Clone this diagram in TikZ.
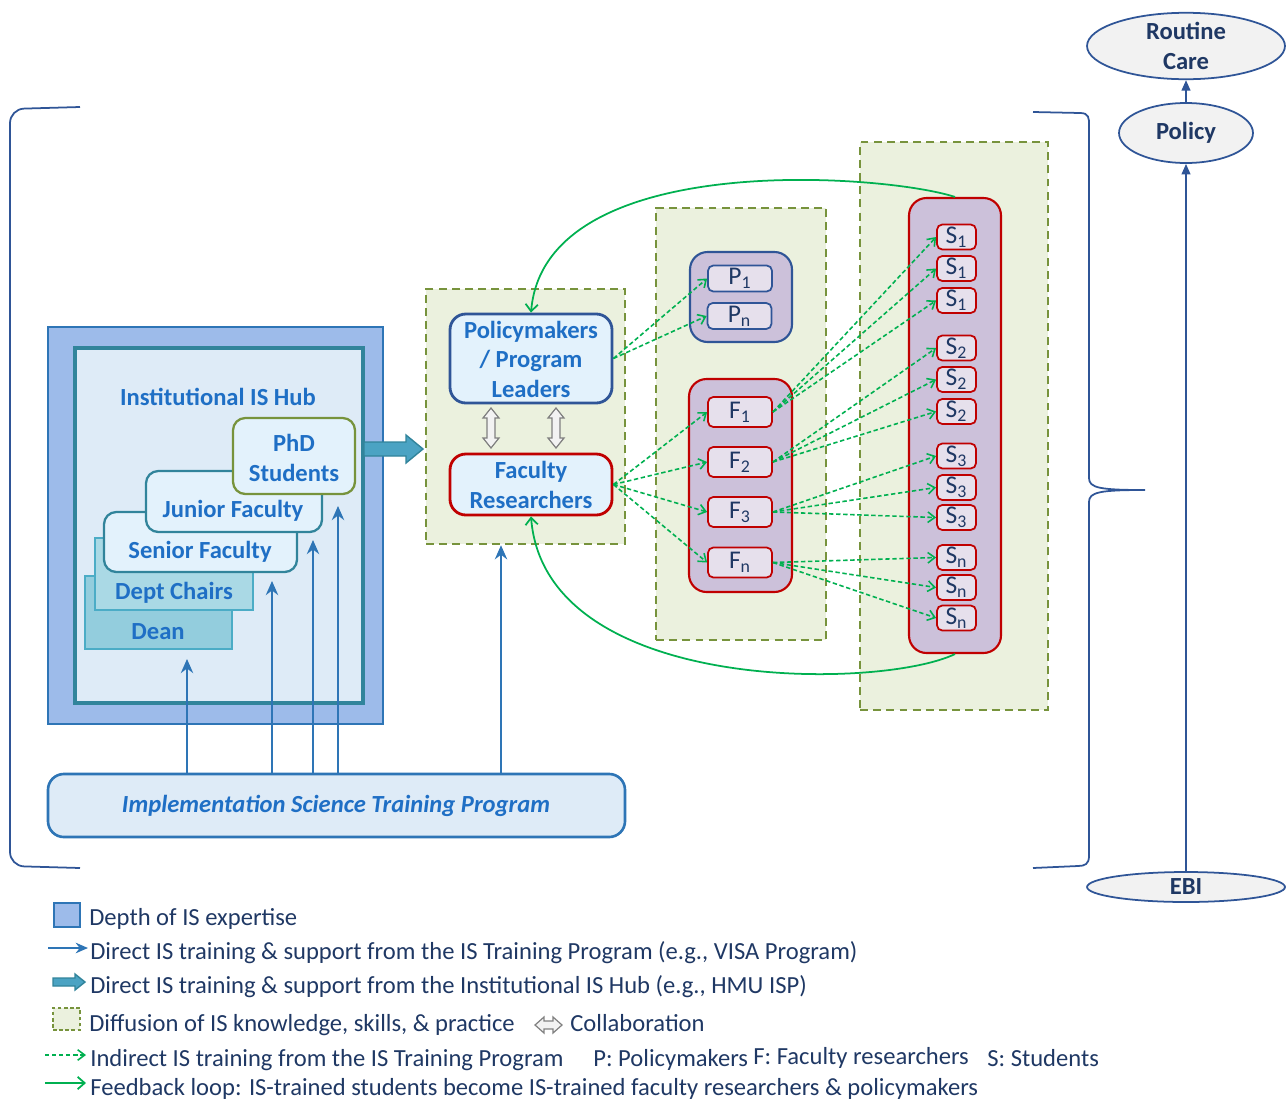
\documentclass[tikz,border=0pt]{standalone}
\usepackage{fontspec}
\setmainfont{Carlito}
\usetikzlibrary{arrows.meta,shapes.geometric,shapes.arrows,fit}
\definecolor{hubfill}{HTML}{9DBBEA}
\definecolor{hubline}{HTML}{2E75B6}
\definecolor{hubin}{HTML}{DEEBF7}
\definecolor{tealline}{HTML}{31849B}
\definecolor{tblue}{HTML}{1F6FC5}
\definecolor{navy}{HTML}{1F3864}
\definecolor{deanfill}{HTML}{93CDDD}
\definecolor{chairfill}{HTML}{AAD9E5}
\definecolor{lightline}{HTML}{4BACC6}
\definecolor{facfill}{HTML}{E3F2FC}
\definecolor{olive}{HTML}{77933C}
\definecolor{difffill}{HTML}{EBF1DE}
\definecolor{purp}{HTML}{CCC1DA}
\definecolor{purpin}{HTML}{E6E0EC}
\definecolor{redline}{HTML}{C00000}
\definecolor{dblue}{HTML}{2F5597}
\definecolor{gline}{HTML}{00B050}
\definecolor{ellfill}{HTML}{F2F2F2}
\definecolor{thickfill}{HTML}{4BA3C3}
\begin{document}
\begin{tikzpicture}[x=0.02cm,y=-0.02cm,
  lab/.style={font=\bfseries\fontsize{14}{16.8}\selectfont, text=tblue, align=center, inner sep=0pt},
  legtext/.style={font=\fontsize{14}{16}\selectfont, text=navy, inner sep=0pt, anchor=base west},
  dbox/.style={draw=olive, fill=difffill, line width=1.4pt, dash pattern=on 4.5pt off 3pt, inner sep=0pt},
  fbox/.style={draw=tealline, fill=facfill, line width=1.3pt, rounded corners=7pt, inner sep=0pt},
  cont/.style={fill=purp, line width=1.2pt, rounded corners=10pt, inner sep=0pt},
  smallbox/.style={fill=purpin, line width=1pt, rounded corners=3pt, inner sep=0pt, text=navy, font=\fontsize{14.5}{14.5}\selectfont},
  sbox/.style={smallbox, draw=redline, minimum width=0.78cm, minimum height=0.5cm},
  fsbox/.style={smallbox, draw=redline, minimum width=1.28cm, minimum height=0.6cm},
  psbox/.style={smallbox, draw=dblue, minimum width=1.28cm, minimum height=0.52cm},
  barrow/.style={draw=hubline, line width=1.6pt, -{Stealth[length=8pt,width=7pt]}},
  garrow/.style={draw=gline, line width=0.9pt, dash pattern=on 2.5pt off 1.5pt, -{Straight Barb[length=4pt,width=6pt]}},
  gcurve/.style={draw=gline, line width=1pt, -{Straight Barb[length=4pt,width=7pt]}},
  narrow/.style={draw=dblue, line width=1pt, -{Triangle[length=6pt,width=5pt]}},
  ell/.style={ellipse, draw=dblue, fill=ellfill, line width=1pt, inner sep=0pt, text=navy, font=\bfseries\fontsize{14}{16.8}\selectfont, align=center},
  collabshape/.style={draw=gray, fill=ellfill, line width=0.7pt, line join=miter},
  thickshape/.style={draw=tealline, fill=thickfill, line width=0.8pt, line join=miter}
]
\useasboundingbox (0,0) rectangle (1288,1099);

% brackets
\draw[dblue, line width=1pt, rounded corners=8pt] (80,107) -- (10,109) -- (10,866) -- (80,868);
\coordinate (btip) at (1145,490);
\draw[dblue, line width=1pt] (1033,112) -- (1080,113) .. controls (1089,113) and (1089,118) .. (1089,125)
  -- (1089,478) .. controls (1089,488) and (1100,490) .. (btip)
  .. controls (1100,490) and (1089,492) .. (1089,502) -- (1089,856)
  .. controls (1089,864) and (1085,866) .. (1078,866) -- (1033,868);

% right ellipses
\node[ell, minimum width=3.96cm, minimum height=1.3cm] (rc) at (1186,46) {Routine\\Care};
\node[ell, minimum width=2.68cm, minimum height=1.2cm] (policy) at (1186,133) {Policy};
\node[ell, minimum width=3.96cm, minimum height=0.6cm] (ebi) at (1186,887) {EBI};
\draw[narrow] (ebi.north) -- (policy.south);
\draw[narrow] (policy.north) -- (rc.south);

% diffusion boxes
\node[dbox, fit={(426,289) (625,544)}] (d1) {};
\node[dbox, fit={(656,208) (826,640)}] (d2) {};
\node[dbox, fit={(860,142) (1048,710)}] (d3) {};

% hub
\node[draw=hubline, fill=hubfill, line width=1.5pt, inner sep=0pt, fit={(48,327) (383,724)}] (hubout) {};
\node[draw=tealline, fill=hubin, line width=2.6pt, inner sep=0pt, fit={(75,348) (363,703)}] (hubin) {};
\node[lab] (hubt) at (218,397) {Institutional IS Hub};
\node[draw=lightline, fill=deanfill, line width=0.9pt, inner sep=0pt, fit={(85,576) (232,649)}] (dean) {};
\node[lab] (deant) at (158,632) {Dean};
\node[draw=lightline, fill=chairfill, line width=0.9pt, inner sep=0pt, fit={(95,538) (253,610)}] (chairs) {};
\node[lab] (chairst) at (174,593) {Dept Chairs};
\node[fbox, fit={(104,512) (297,572)}] (senior) {};
\node[lab] (seniort) at (200,552) {Senior Faculty};
\node[fbox, fit={(146,471) (322,532)}] (junior) {};
\node[lab] (juniort) at (233,511) {Junior Faculty};
\node[fbox, draw=olive, fit={(233,418) (355,494)}] (phd) {};
\node[lab] (phdt) at (294,458) {PhD\\Students};

% thick arrow (hub -> diffusion)
\draw[thickshape] (364,442) -- (406,442) -- (406,435) -- (423,449) -- (406,463) -- (406,456) -- (364,456) -- cycle;

% training program
\node[draw=hubline, fill=hubin, line width=1.5pt, rounded corners=9pt, inner sep=0pt, fit={(48,774) (625,837)}] (tp) {};
\node[font=\bfseries\itshape\fontsize{14}{16}\selectfont, text=tblue, inner sep=0pt] (tpt) at (336,806) {Implementation Science Training Program};
\draw[barrow] (tp.north -| 187,0) -- (187,659);
\draw[barrow] (tp.north -| 272,0) -- (272,581);
\draw[barrow] (tp.north -| 313,0) -- (313,540);
\draw[barrow] (tp.north -| 338,0) -- (338,506);
\draw[barrow] (tp.north -| 501,0) -- (d1.south -| 501,0);

% policymakers / faculty
\node[draw=dblue, fill=facfill, line width=1.6pt, rounded corners=9pt, inner sep=0pt, fit={(450,314) (612,403)}] (pol) {};
\node[lab] (polt) at (531,359) {Policymakers\\/ Program\\Leaders};
\node[draw=redline, fill=facfill, line width=1.6pt, rounded corners=9pt, inner sep=0pt, fit={(450,454) (612,515)}] (fac) {};
\node[lab] (fact) at (531,485) {Faculty\\Researchers};
% collaboration arrows
\foreach \cx in {491,556}
  \draw[collabshape] (\cx,408) -- (\cx+8,418) -- (\cx+4,418) -- (\cx+4,438) -- (\cx+8,438) -- (\cx,448)
    -- (\cx-8,438) -- (\cx-4,438) -- (\cx-4,418) -- (\cx-8,418) -- cycle;

% P container
\node[cont, draw=dblue, fit={(690,252) (792,342)}] (pcont) {};
\node[psbox] (p1) at (740,278.5) {P\textsubscript{1}};
\node[psbox] (pn) at (739.5,316) {P\textsubscript{n}};

% F container
\node[cont, draw=redline, fit={(689,379) (792,592)}] (fcont) {};
\node[fsbox] (f1) at (740,412) {F\textsubscript{1}};
\node[fsbox] (f2) at (740,462) {F\textsubscript{2}};
\node[fsbox] (f3) at (740,512) {F\textsubscript{3}};
\node[fsbox] (fn) at (740,562.5) {F\textsubscript{n}};

% S container
\node[cont, draw=redline, fit={(909,198) (1001,653)}] (scont) {};
\node[sbox] (s1a) at (956.5,237) {S\textsubscript{1}};
\node[sbox] (s1b) at (956.5,268.5) {S\textsubscript{1}};
\node[sbox] (s1c) at (956.5,300.5) {S\textsubscript{1}};
\node[sbox] (s2a) at (956.5,348) {S\textsubscript{2}};
\node[sbox] (s2b) at (956.5,379.5) {S\textsubscript{2}};
\node[sbox] (s2c) at (956.5,411.5) {S\textsubscript{2}};
\node[sbox] (s3a) at (956.5,456) {S\textsubscript{3}};
\node[sbox] (s3b) at (956.5,487.5) {S\textsubscript{3}};
\node[sbox] (s3c) at (956.5,517.5) {S\textsubscript{3}};
\node[sbox] (sna) at (956.5,557.5) {S\textsubscript{n}};
\node[sbox] (snb) at (956.5,587.5) {S\textsubscript{n}};
\node[sbox] (snc) at (956.5,618) {S\textsubscript{n}};

% dashed green arrows
\draw[garrow] (pol.east) -- (p1.west);
\draw[garrow] (pol.east) -- (pn.west);
\foreach \t in {f1,f2,f3,fn} \draw[garrow] (fac.east) -- (\t.west);
\foreach \t in {s1a,s1b,s1c} \draw[garrow] (f1.east) -- (\t.west);
\foreach \t in {s2a,s2b,s2c} \draw[garrow] (f2.east) -- (\t.west);
\foreach \t in {s3a,s3b,s3c} \draw[garrow] (f3.east) -- (\t.west);
\foreach \t in {sna,snb,snc} \draw[garrow] (fn.east) -- (\t.west);

% feedback curves
\draw[gcurve] (scont.north) .. controls (885,174) and (545,148) .. (pol.north);
\draw[gcurve] (scont.south) .. controls (880,690) and (545,695) .. (fac.south);

% legend
\node[draw=hubline, fill=hubfill, line width=1.4pt, inner sep=0pt, fit={(54,903) (80,927)}] (lg1) {};
\node[legtext] (lt1) at (89,925) {Depth of IS expertise};
\coordinate (la2) at (48,948);
\coordinate (lb2) at (88,948);
\draw[draw=hubline, line width=1.4pt, -{Stealth[length=7pt,width=6pt]}] (la2) -- (lb2);
\node[legtext] (lt2) at (90,959) {Direct IS training \& support from the IS Training Program (e.g., VISA Program)};
\draw[thickshape] (53,978) -- (75,978) -- (75,974) -- (85,982) -- (75,990) -- (75,986) -- (53,986) -- cycle;
\node[legtext] (lt3) at (90,993) {Direct IS training \& support from the Institutional IS Hub (e.g., HMU ISP)};
\node[dbox, line width=0.8pt, dash pattern=on 2pt off 1.5pt, fit={(53,1008) (80,1030)}] (lg4) {};
\node[legtext] (lt4) at (89,1031) {Diffusion of IS knowledge, skills, \& practice};
\draw[collabshape] (535,1025) -- (544,1017) -- (544,1021) -- (553,1021) -- (553,1017) -- (562,1025)
  -- (553,1033) -- (553,1029) -- (544,1029) -- (544,1033) -- cycle;
\node[legtext] (lt4b) at (570,1031) {Collaboration};
\coordinate (la5) at (45,1055);
\coordinate (lb5) at (86,1055);
\draw[garrow] (la5) -- (lb5);
\node[legtext] (lt5) at (90,1066) {Indirect IS training from the IS Training Program};
\node[legtext] (lt5b) at (593,1066) {P: Policymakers};
\node[legtext] (lt5c) at (753,1064) {F: Faculty researchers};
\node[legtext] (lt5d) at (987,1066) {S: Students};
\coordinate (la6) at (45,1083);
\coordinate (lb6) at (86,1083);
\draw[gcurve] (la6) -- (lb6);
\node[legtext] (lt6) at (90,1095) {Feedback loop: IS-trained students become IS-trained faculty researchers \& policymakers};
\end{tikzpicture}
\end{document}
